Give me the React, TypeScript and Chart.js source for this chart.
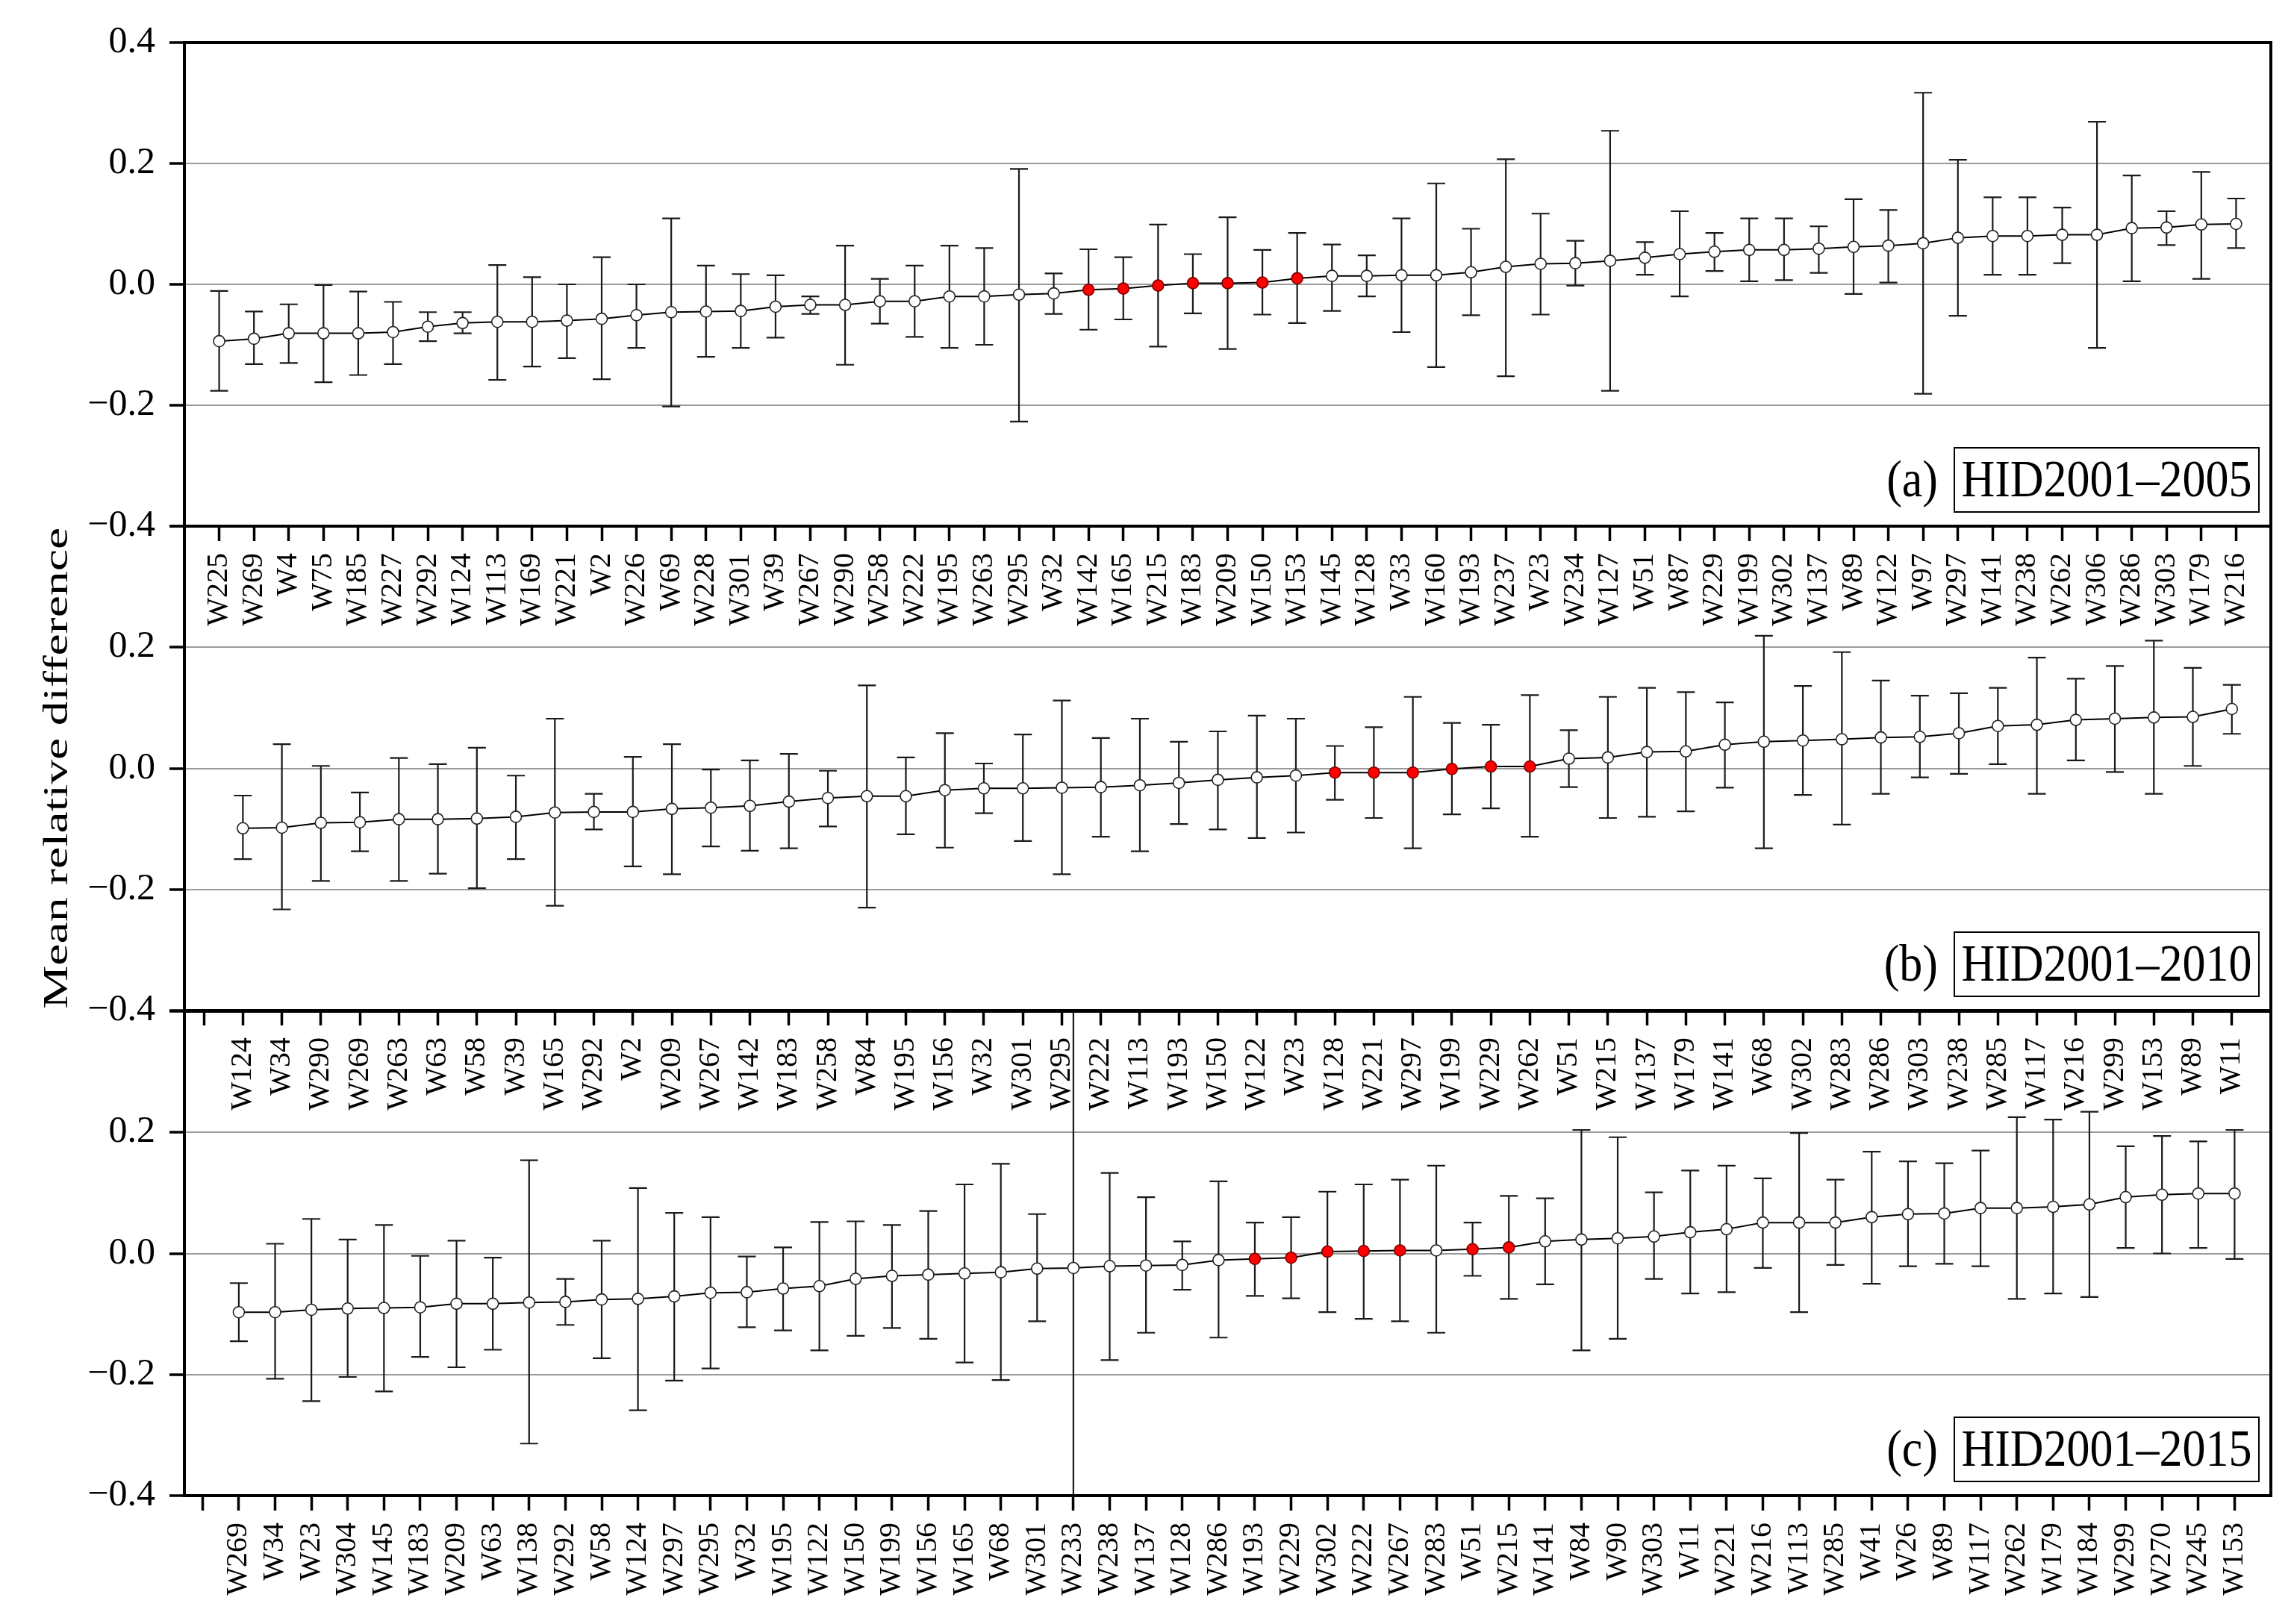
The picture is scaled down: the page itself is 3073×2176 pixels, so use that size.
import React, { useEffect, useRef } from 'react';
import { Chart, registerables } from 'chart.js';

Chart.register(...registerables);

// ---------- Data ----------
const namesA = ['W225','W269','W4','W75','W185','W227','W292','W124','W113','W169','W221','W2','W226','W69','W228','W301','W39','W267','W290','W258','W222','W195','W263','W295','W32','W142','W165','W215','W183','W209','W150','W153','W145','W128','W33','W160','W193','W237','W23','W234','W127','W51','W87','W229','W199','W302','W137','W89','W122','W97','W297','W141','W238','W262','W306','W286','W303','W179','W216'];
const meanA = [-0.094,-0.090,-0.081,-0.081,-0.081,-0.079,-0.070,-0.064,-0.062,-0.062,-0.060,-0.057,-0.051,-0.046,-0.045,-0.044,-0.037,-0.034,-0.034,-0.028,-0.028,-0.020,-0.020,-0.017,-0.015,-0.009,-0.007,-0.002,0.002,0.002,0.003,0.010,0.014,0.014,0.015,0.015,0.020,0.029,0.034,0.035,0.039,0.044,0.050,0.054,0.057,0.057,0.059,0.062,0.064,0.068,0.077,0.080,0.080,0.082,0.082,0.093,0.094,0.099,0.100];
const upperA = [-0.011,-0.045,-0.033,-0.001,-0.012,-0.029,-0.046,-0.046,0.032,0.012,0.0,0.045,0.0,0.109,0.031,0.017,0.015,-0.020,0.064,0.009,0.031,0.064,0.060,0.191,0.018,0.058,0.045,0.099,0.050,0.111,0.057,0.085,0.066,0.048,0.109,0.167,0.092,0.207,0.117,0.072,0.254,0.070,0.121,0.085,0.109,0.109,0.096,0.141,0.123,0.317,0.206,0.144,0.144,0.127,0.269,0.180,0.121,0.186,0.142];
const lowerA = [-0.176,-0.132,-0.130,-0.162,-0.150,-0.132,-0.094,-0.081,-0.158,-0.136,-0.122,-0.157,-0.105,-0.202,-0.120,-0.105,-0.088,-0.049,-0.133,-0.065,-0.087,-0.105,-0.100,-0.227,-0.049,-0.075,-0.058,-0.103,-0.048,-0.107,-0.050,-0.064,-0.044,-0.020,-0.079,-0.137,-0.051,-0.152,-0.050,-0.002,-0.176,0.016,-0.020,0.022,0.005,0.007,0.019,-0.016,0.003,-0.181,-0.052,0.016,0.016,0.035,-0.105,0.005,0.065,0.009,0.060];
const redA = ['W142','W165','W215','W183','W209','W150','W153'];

const namesB = ['W124','W34','W290','W269','W263','W63','W58','W39','W165','W292','W2','W209','W267','W142','W183','W258','W84','W195','W156','W32','W301','W295','W222','W113','W193','W150','W122','W23','W128','W221','W297','W199','W229','W262','W51','W215','W137','W179','W141','W68','W302','W283','W286','W303','W238','W285','W117','W216','W299','W153','W89','W11'];
const meanB = [-0.099,-0.098,-0.090,-0.089,-0.084,-0.084,-0.083,-0.080,-0.073,-0.072,-0.072,-0.067,-0.065,-0.062,-0.055,-0.049,-0.046,-0.046,-0.036,-0.033,-0.033,-0.032,-0.031,-0.028,-0.024,-0.019,-0.015,-0.012,-0.007,-0.007,-0.007,-0.001,0.003,0.003,0.016,0.018,0.027,0.028,0.039,0.044,0.046,0.048,0.051,0.052,0.058,0.070,0.072,0.080,0.082,0.084,0.085,0.098];
const upperB = [-0.045,0.040,0.004,-0.040,0.017,0.007,0.034,-0.012,0.082,-0.042,0.019,0.040,-0.002,0.013,0.024,-0.004,0.137,0.018,0.058,0.008,0.056,0.112,0.050,0.082,0.044,0.061,0.087,0.082,0.037,0.068,0.118,0.075,0.072,0.121,0.063,0.118,0.133,0.126,0.109,0.219,0.136,0.192,0.145,0.120,0.124,0.133,0.183,0.148,0.169,0.211,0.166,0.138];
const lowerB = [-0.150,-0.233,-0.186,-0.137,-0.186,-0.174,-0.198,-0.150,-0.227,-0.101,-0.162,-0.175,-0.129,-0.136,-0.132,-0.096,-0.230,-0.109,-0.131,-0.074,-0.120,-0.175,-0.113,-0.137,-0.092,-0.101,-0.115,-0.106,-0.052,-0.082,-0.132,-0.076,-0.066,-0.113,-0.031,-0.082,-0.080,-0.071,-0.032,-0.132,-0.044,-0.093,-0.042,-0.015,-0.009,0.007,-0.042,0.013,-0.006,-0.042,0.004,0.057];
const redB = ['W128','W221','W297','W199','W229','W262'];

const namesC = ['W269','W34','W23','W304','W145','W183','W209','W63','W138','W292','W58','W124','W297','W295','W32','W195','W122','W150','W199','W156','W165','W68','W301','W233','W238','W137','W128','W286','W193','W229','W302','W222','W267','W283','W51','W215','W141','W84','W90','W303','W11','W221','W216','W113','W285','W41','W26','W89','W117','W262','W179','W184','W299','W270','W245','W153'];
const meanC = [-0.097,-0.097,-0.093,-0.091,-0.090,-0.089,-0.083,-0.083,-0.081,-0.080,-0.076,-0.075,-0.071,-0.065,-0.064,-0.058,-0.054,-0.042,-0.037,-0.035,-0.033,-0.031,-0.025,-0.024,-0.021,-0.020,-0.019,-0.011,-0.009,-0.007,0.003,0.004,0.005,0.005,0.007,0.010,0.020,0.023,0.025,0.028,0.035,0.040,0.051,0.051,0.051,0.060,0.065,0.066,0.075,0.075,0.077,0.081,0.093,0.097,0.099,0.099];
const upperC = [-0.049,0.016,0.057,0.023,0.047,-0.004,0.021,-0.007,0.154,-0.042,0.021,0.108,0.067,0.060,-0.005,0.010,0.052,0.053,0.047,0.070,0.114,0.148,0.065,0.6,0.133,0.093,0.020,0.119,0.051,0.060,0.102,0.114,0.122,0.145,0.051,0.095,0.091,0.204,0.192,0.101,0.137,0.145,0.124,0.199,0.122,0.168,0.152,0.149,0.170,0.225,0.221,0.234,0.177,0.194,0.185,0.204];
const lowerC = [-0.145,-0.207,-0.244,-0.204,-0.228,-0.171,-0.188,-0.159,-0.314,-0.118,-0.173,-0.259,-0.210,-0.190,-0.122,-0.127,-0.160,-0.136,-0.123,-0.141,-0.180,-0.209,-0.112,-0.6,-0.176,-0.131,-0.060,-0.139,-0.070,-0.074,-0.097,-0.108,-0.112,-0.131,-0.037,-0.075,-0.051,-0.160,-0.141,-0.042,-0.066,-0.064,-0.024,-0.097,-0.019,-0.050,-0.021,-0.017,-0.021,-0.075,-0.066,-0.072,0.009,0.000,0.009,-0.009];
const redC = ['W193','W229','W302','W222','W267','W51','W215'];

const yTicks = [-0.4, -0.2, 0.0, 0.2, 0.4];
const yTitle = 'Mean relative difference';

// ---------- Layout ----------
const W = 3073;
const H = 2176;
const PLOT_LEFT = 247;
const PLOT_RIGHT = 3042;
const XAXIS_H = 150;
const FONT = '"Liberation Serif", "Times New Roman", serif';

type Panel = {
  names: string[]; mean: number[]; upper: number[]; lower: number[]; red: string[];
  tag: string; period: string; top: number; bottom: number;
  xMin: number; xMax: number; firstTick: number; showTopLabel: boolean; showTitle: boolean;
};

const panels: Panel[] = [
  { names: namesA, mean: meanA, upper: upperA, lower: lowerA, red: redA, tag: '(a)', period: 'HID2001–2005',
    top: 57, bottom: 705, xMin: 0, xMax: namesA.length + 1, firstTick: 1, showTopLabel: true, showTitle: false },
  { names: namesB, mean: meanB, upper: upperB, lower: lowerB, red: redB, tag: '(b)', period: 'HID2001–2010',
    top: 705, bottom: 1354, xMin: -0.5, xMax: namesB.length + 1, firstTick: 0, showTopLabel: false, showTitle: true },
  { names: namesC, mean: meanC, upper: upperC, lower: lowerC, red: redC, tag: '(c)', period: 'HID2001–2015',
    top: 1355, bottom: 2004, xMin: -0.5, xMax: namesC.length + 1, firstTick: 0, showTopLabel: false, showTitle: false },
];

function fmtY(v: number, showTop: boolean): string {
  if (!showTop && v > 0.39) return '';
  if (Math.abs(v) < 1e-9) return '0.0';
  return (v < 0 ? '\u2212' : '') + Math.abs(v).toFixed(1);
}

function makeChart(canvas: HTMLCanvasElement, p: Panel): Chart {
  const tickValues: number[] = [];
  for (let v = p.firstTick; v <= p.names.length; v++) tickValues.push(v);

  const errorBars = {
    id: 'errorBars',
    beforeDatasetsDraw(chart: any) {
      const { ctx, chartArea: ca, scales } = chart;
      const xs = scales.x, ys = scales.y;
      ctx.save();
      ctx.beginPath();
      ctx.rect(ca.left, ca.top, ca.right - ca.left, ca.bottom - ca.top);
      ctx.clip();
      ctx.strokeStyle = '#1a1a1a';
      ctx.lineWidth = 2.2;
      p.lower.forEach((lo, i) => {
        const px = xs.getPixelForValue(i + 1);
        const pl = ys.getPixelForValue(lo);
        const ph = ys.getPixelForValue(p.upper[i]);
        ctx.beginPath();
        ctx.moveTo(px, pl); ctx.lineTo(px, ph);
        ctx.moveTo(px - 12, pl); ctx.lineTo(px + 12, pl);
        ctx.moveTo(px - 12, ph); ctx.lineTo(px + 12, ph);
        ctx.stroke();
      });
      ctx.restore();
    },
  };

  const frame = {
    id: 'frameAndLabels',
    afterDraw(chart: any) {
      const { ctx, chartArea: ca } = chart;
      ctx.save();
      ctx.strokeStyle = '#000';
      ctx.lineWidth = 4;
      ctx.strokeRect(ca.left, ca.top, ca.right - ca.left, ca.bottom - ca.top);
      // boxed period label
      const bw = 408, bh = 86;
      const bx2 = ca.right - 16, by2 = ca.bottom - 19;
      ctx.lineWidth = 2;
      ctx.strokeRect(bx2 - bw, by2 - bh, bw, bh);
      ctx.fillStyle = '#000';
      ctx.font = `62px ${FONT}`;
      ctx.textBaseline = 'alphabetic';
      ctx.save();
      ctx.translate(bx2 - bw / 2, by2 - 21);
      ctx.scale(1, 1.12);
      ctx.textAlign = 'center';
      ctx.fillText(p.period, 0, 0);
      ctx.restore();
      ctx.save();
      ctx.translate(bx2 - bw - 22, by2 - 21);
      ctx.scale(1, 1.12);
      ctx.textAlign = 'right';
      ctx.fillText(p.tag, 0, 0);
      ctx.restore();
      if (p.showTitle) {
        ctx.save();
        ctx.translate(90, (ca.top + ca.bottom) / 2);
        ctx.rotate(-Math.PI / 2);
        ctx.scale(1.43, 1);
        ctx.font = `46px ${FONT}`;
        ctx.textAlign = 'center';
        ctx.textBaseline = 'alphabetic';
        ctx.fillText(yTitle, 0, 0);
        ctx.restore();
      }
      ctx.restore();
    },
  };

  const pointFill = p.names.map((n) => (p.red.includes(n) ? '#ff0000' : '#ffffff'));
  const pointEdge = p.names.map((n) => (p.red.includes(n) ? '#7a0000' : '#222222'));

  return new Chart(canvas, {
    type: 'line',
    data: {
      datasets: [
        {
          data: p.mean.map((v, i) => ({ x: i + 1, y: v })),
          borderColor: '#000',
          borderWidth: 2,
          pointRadius: 7.5,
          pointHoverRadius: 7.5,
          pointBackgroundColor: pointFill,
          pointBorderColor: pointEdge,
          pointBorderWidth: 1.6,
          tension: 0,
        },
      ],
    },
    options: {
      animation: false,
      responsive: false,
      devicePixelRatio: 1,
      events: [],
      layout: { padding: { left: 0, right: W - PLOT_RIGHT, top: p.top, bottom: H - p.bottom - XAXIS_H } },
      plugins: { legend: { display: false }, tooltip: { enabled: false }, title: { display: false } },
      scales: {
        x: {
          type: 'linear',
          min: p.xMin,
          max: p.xMax,
          afterBuildTicks: (s: any) => { s.ticks = tickValues.map((v) => ({ value: v })); },
          afterFit: (s: any) => { s.height = XAXIS_H; },
          grid: { drawOnChartArea: false, drawTicks: true, tickLength: 20, tickWidth: 3.5, tickColor: '#000', color: '#000' },
          border: { display: true, color: '#000', width: 4 },
          ticks: {
            autoSkip: false,
            minRotation: 90,
            maxRotation: 90,
            padding: 16,
            color: '#000',
            font: { family: FONT, size: 40 },
            callback: (v: any) => p.names[Number(v) - 1] ?? '',
          },
        },
        y: {
          type: 'linear',
          min: yTicks[0],
          max: yTicks[yTicks.length - 1],
          afterBuildTicks: (s: any) => { s.ticks = yTicks.map((v) => ({ value: v })); },
          afterFit: (s: any) => { s.width = PLOT_LEFT; },
          grid: {
            color: (c: any) => (Math.abs(Math.abs(c.tick.value) - 0.4) < 1e-6 ? 'rgba(0,0,0,0)' : '#9a9a9a'),
            lineWidth: 2,
            drawTicks: true,
            tickLength: 20,
            tickWidth: 3.5,
            tickColor: '#000',
          },
          border: { display: true, color: '#000', width: 4 },
          ticks: {
            padding: 19,
            color: '#000',
            font: { family: FONT, size: 50 },
            callback: (v: any) => fmtY(Number(v), p.showTopLabel),
          },
        },
      },
    },
    plugins: [errorBars, frame],
  } as any);
}

export default function App() {
  const refA = useRef<HTMLCanvasElement>(null);
  const refB = useRef<HTMLCanvasElement>(null);
  const refC = useRef<HTMLCanvasElement>(null);

  useEffect(() => {
    const refs = [refA, refB, refC];
    const charts = refs.map((r, i) => makeChart(r.current as HTMLCanvasElement, panels[i]));
    return () => charts.forEach((c) => c.destroy());
  }, []);

  const cs: React.CSSProperties = { position: 'absolute', left: 0, top: 0, width: W, height: H };
  return (
    <div style={{ position: 'absolute', left: 0, top: 0, width: W, height: H, background: '#fff' }}>
      <canvas ref={refC} width={W} height={H} style={cs} />
      <canvas ref={refB} width={W} height={H} style={cs} />
      <canvas ref={refA} width={W} height={H} style={cs} />
    </div>
  );
}
